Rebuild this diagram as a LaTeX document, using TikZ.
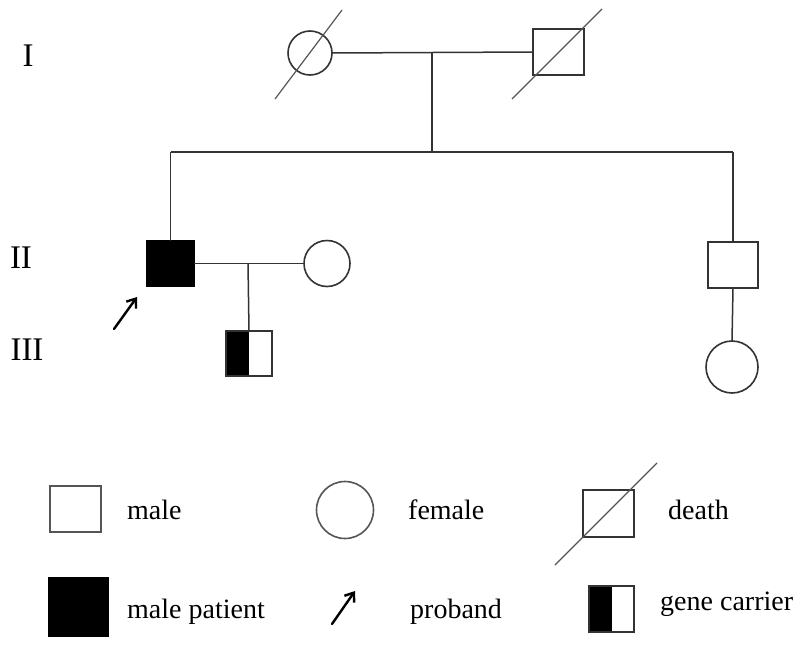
\documentclass[tikz,border=0pt]{standalone}
\usepackage{fontspec}
\setmainfont{Liberation Serif}
\usetikzlibrary{arrows.meta,calc}
\definecolor{ln}{HTML}{333333}
\definecolor{lg}{HTML}{555555}
\tikzset{
  sq/.style={draw=ln,line width=1.6pt,rectangle,inner sep=0pt,outer sep=0pt,fill=white},
  fem/.style={draw=ln,line width=1.6pt,circle,inner sep=0pt,outer sep=0pt,fill=white},
  link/.style={draw=ln,line width=1.5pt},
  slash/.style={draw=lg,line width=1.2pt},
  lab/.style={font=\fontsize{28}{30}\selectfont,anchor=base west,inner sep=0pt},
  gen/.style={font=\fontsize{33}{36}\selectfont,inner sep=0pt},
  pro/.style={draw=black,line width=2.4pt,line cap=round,-{Straight Barb[length=8pt,width=12pt,line width=2.4pt]}}
}
\begin{document}
\begin{tikzpicture}[x=1pt,y=-1pt]
\useasboundingbox[fill=white] (0,0) rectangle (800,648);

% generation labels
\node[gen] (g1) at (28,56) {I};
\node[gen] (g2) at (21,258) {II};
\node[gen] (g3) at (27,350) {III};

% Generation I
\node[fem,minimum size=44pt] (f1) at (310,53) {};
\node[sq,minimum width=51pt,minimum height=46pt] (m1) at (558.5,52) {};
\draw[slash] ($(f1.center)+(-35,46)$) -- ($(f1.center)+(32,-43)$);
\draw[slash] ($(m1.center)+(-46.5,47)$) -- ($(m1.center)+(43.5,-43)$);
\coordinate (c1) at (432,53);
\coordinate (c1b) at (432,152);
\draw[link] (f1.east) -- (m1.west);
\draw[link] (c1) -- (c1b);

% sibship
\node[sq,fill=black,draw=black,minimum width=47pt,minimum height=45pt] (p2) at (170.5,263.5) {};
\node[sq,minimum width=50pt,minimum height=46pt] (s2) at (733,265) {};
\coordinate (sl) at (p2.north |- c1b);
\coordinate (sr) at (s2.north |- c1b);
\draw[link] (sl) -- (sr);
\draw[link] (sl) -- (p2.north);
\draw[link] (sr) -- (s2.north);

% Generation II
\node[fem,minimum size=46pt] (w2) at (327,263.5) {};
\draw[link] (p2.east) -- (w2.west);
\coordinate (c2) at (248,263.5);

% Generation III
\node[sq,minimum width=46pt,minimum height=45pt] (c3) at (249,353.5) {};
\fill[black] (c3.north west) rectangle (c3.south);
\draw[ln,line width=1.6pt] (c3.north west) rectangle (c3.south east);
\draw[link] (c2) -- (c3.north);

\node[fem,minimum size=52pt] (d2) at (732,367) {};
\draw[link] (s2.south) -- (d2.north);

% proband arrow
\coordinate (a1) at (114,329);
\coordinate (a2) at (137,297);
\draw[pro] (a1) -- (a2);

% Legend
\node[sq,draw=lg,minimum width=51pt,minimum height=46pt] (lm) at (75.5,509) {};
\node[lab] (tm) at (127,519) {male};
\node[fem,draw=lg,minimum size=57pt] (lf) at (345,510) {};
\node[lab] (tf) at (408,519) {female};
\node[sq,minimum width=51pt,minimum height=47pt] (ld) at (608.5,513.5) {};
\draw[slash] ($(ld.center)+(-53.5,51.5)$) -- ($(ld.center)+(48.5,-50.5)$);
\node[lab] (td) at (668,519) {death};

\node[sq,fill=black,draw=black,minimum width=59pt,minimum height=58pt] (lp) at (78.5,607) {};
\node[lab] (tp) at (127,618) {male patient};
\coordinate (b1) at (332,624);
\coordinate (b2) at (355,591);
\draw[pro] (b1) -- (b2);
\node[lab] (tb) at (410,618) {proband};
\node[sq,minimum width=45pt,minimum height=46pt] (lgc) at (611.5,609) {};
\fill[black] (lgc.north west) rectangle (lgc.south);
\draw[ln,line width=1.6pt] (lgc.north west) rectangle (lgc.south east);
\node[lab] (tg) at (660,610) {gene carrier};
\end{tikzpicture}
\end{document}
